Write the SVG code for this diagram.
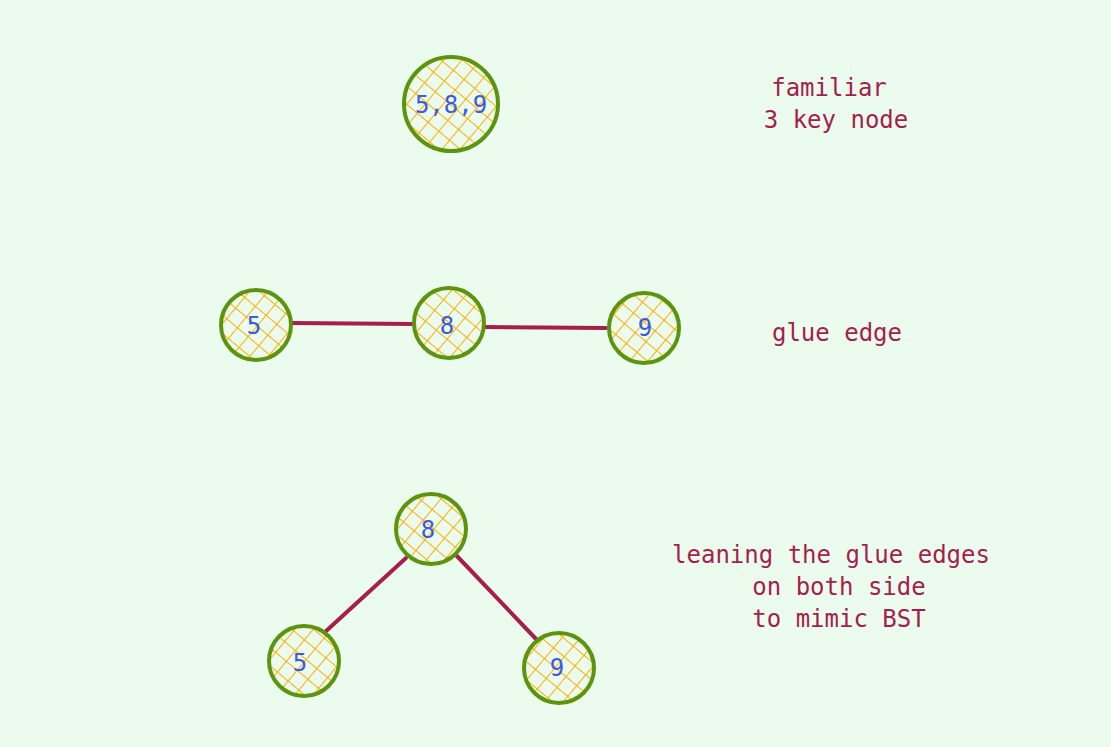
<svg xmlns="http://www.w3.org/2000/svg" width="1111" height="747" viewBox="0 0 1111 747">
<style>
.n{fill:url(#h);stroke:#5c940d;stroke-width:4}
.t{font-family:"DejaVu Sans Mono",monospace;font-size:24px;fill:#3b5bdb;text-anchor:middle}
.l{font-family:"DejaVu Sans Mono",monospace;font-size:24px;fill:#a61e4d;text-anchor:middle}
.e{stroke:#a61e4d;stroke-width:4;stroke-linecap:round}
</style>
<defs>
<pattern id="h" width="14" height="14" patternUnits="userSpaceOnUse" patternTransform="rotate(40)">
<rect width="14" height="14" fill="#ebfbee"/>
<path d="M0 0V14M0 0H14" stroke="#fab005" stroke-width="2"/>
</pattern>
</defs>
<rect width="1111" height="747" fill="#ebfbee"/>
<g id="connectors">
<line class="e" x1="290" y1="323" x2="415" y2="324"/>
<line class="e" x1="483" y1="327" x2="606" y2="328"/>
<line class="e" x1="406" y1="558" x2="325" y2="632"/>
<line class="e" x1="455" y1="554" x2="537" y2="640"/>
</g>
<g id="n589"><circle class="n" cx="451" cy="104" r="47"/><text class="t" x="451" y="113">5,8,9</text></g>
<g id="n5a"><circle class="n" cx="256" cy="325" r="35"/><text class="t" x="254" y="334">5</text></g>
<g id="n8a"><circle class="n" cx="449" cy="323" r="35"/><text class="t" x="447" y="334">8</text></g>
<g id="n9a"><circle class="n" cx="644" cy="328" r="35"/><text class="t" x="645" y="336">9</text></g>
<g id="n8b"><circle class="n" cx="431" cy="529" r="35"/><text class="t" x="428" y="538">8</text></g>
<g id="n5b"><circle class="n" cx="304" cy="661" r="35"/><text class="t" x="300" y="671">5</text></g>
<g id="n9b"><circle class="n" cx="559" cy="668" r="35"/><text class="t" x="557" y="676">9</text></g>
<g id="labels">
<text class="l" x="829" y="96">familiar</text>
<text class="l" x="836" y="128">3 key node</text>
<text class="l" x="837" y="341">glue edge</text>
<text class="l" x="831" y="563">leaning the glue edges</text>
<text class="l" x="839" y="595">on both side</text>
<text class="l" x="839" y="627">to mimic BST</text>
</g>
</svg>
